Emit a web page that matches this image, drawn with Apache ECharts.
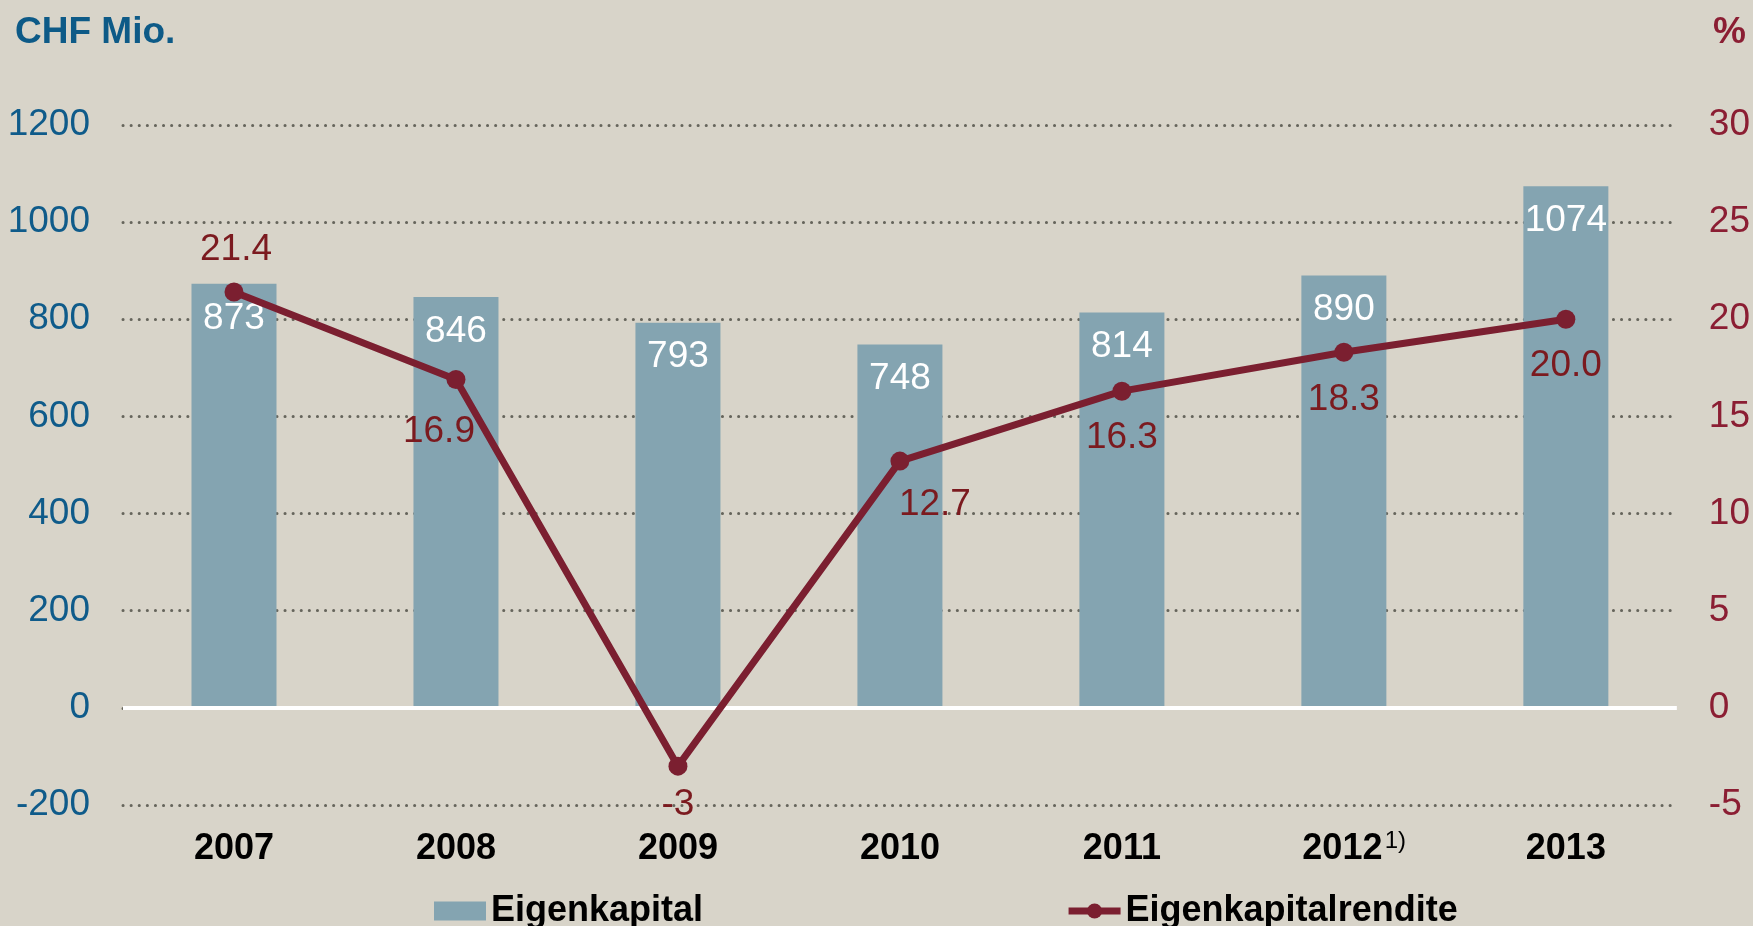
<!DOCTYPE html>
<html>
<head>
<meta charset="utf-8">
<script src="https://cdn.jsdelivr.net/npm/echarts@6/dist/echarts.min.js"></script>
<style>
  html, body { margin: 0; padding: 0; background: #d8d4c9; }
  #main { width: 1753px; height: 926px; }
</style>
</head>
<body>
<div id="main"></div>
<script>
// Daten
var years = ['2007', '2008', '2009', '2010', '2011', '2012', '2013'];
var eigenkapital = [873, 846, 793, 748, 814, 890, 1074];
var rendite = [21.4, 16.9, -3, 12.7, 16.3, 18.3, 20.0];
var renditeLabels = ['21.4', '16.9', '-3', '12.7', '16.3', '18.3', '20.0'];
var leftTicks = { min: -200, max: 1200, interval: 200 };
var rightTicks = { min: -5, max: 30, interval: 5 };

// Label-Versatz der Linienwerte (nur Darstellung)
var labelOffsets = [[2, -42], [-17, 52], [0, 39], [35, 44], [0, 47], [0, 47], [0, 47]];

var font = '"Liberation Sans", Arial, sans-serif';
var chart = echarts.init(document.getElementById('main'));

var lineData = rendite.map(function (v, i) {
    return {
        value: v,
        label: { offset: labelOffsets[i] }
    };
});

var dotted = { color: '#66655c', width: 3, type: [0.1, 8], cap: 'round' };

option = {
    backgroundColor: '#d8d4c9',
    textStyle: { fontFamily: font },
    title: [
        { text: 'CHF Mio.', left: 10, top: 9,
          textStyle: { color: '#0d5a87', fontSize: 37, fontWeight: 'bold', fontFamily: font } },
        { text: '%', right: 2, top: 9,
          textStyle: { color: '#8b1e33', fontSize: 37, fontWeight: 'bold', fontFamily: font } }
    ],
    legend: {
        left: 429,
        top: 888,
        itemWidth: 52,
        itemHeight: 19,
        itemGap: 362,
        textStyle: { color: '#000', fontSize: 36, fontWeight: 'bold', fontFamily: font },
        data: [
            { name: 'Eigenkapital', icon: 'rect' },
            { name: 'Eigenkapitalrendite', lineStyle: { width: 7 } }
        ]
    },
    grid: { left: 123, right: 76, top: 125, bottom: 121 },
    xAxis: {
        type: 'category',
        data: years,
        axisLine: { show: false },
        axisTick: { show: false },
        axisLabel: {
            interval: 0,
            margin: 24,
            color: '#000',
            fontSize: 36,
            fontWeight: 'bold',
            fontFamily: font,
            formatter: function (v) {
                if (v === '2012') return '{pad|}{b|' + v + '}{sup|1)}';
                return '{b|' + v + '}';
            },
            rich: {
                b: { fontSize: 36, lineHeight: 40, fontWeight: 'bold', color: '#000', fontFamily: font },
                pad: { width: 20, lineHeight: 40 },
                sup: { fontSize: 24, lineHeight: 6, verticalAlign: 'top', fontWeight: 'normal',
                       color: '#000', width: 20, fontFamily: font, padding: [0, 0, 0, 3] }
            }
        }
    },
    yAxis: [
        {
            type: 'value',
            min: leftTicks.min, max: leftTicks.max, interval: leftTicks.interval,
            axisLine: { show: false },
            axisTick: { show: false },
            axisLabel: { margin: 33, color: '#0f5b8a', fontSize: 37, fontFamily: font,
                         formatter: function (v) { return String(v); } },
            splitLine: { lineStyle: dotted }
        },
        {
            type: 'value',
            min: rightTicks.min, max: rightTicks.max, interval: rightTicks.interval,
            axisLine: { show: false },
            axisTick: { show: false },
            axisLabel: { margin: 32, color: '#8b1e33', fontSize: 37, fontFamily: font },
            splitLine: { show: false }
        }
    ],
    series: [
        {
            name: 'Eigenkapital',
            type: 'bar',
            yAxisIndex: 0,
            data: eigenkapital,
            barWidth: 85,
            itemStyle: { color: '#84a4b1' },
            label: {
                show: true,
                position: 'insideTop',
                distance: 16,
                color: '#fff',
                fontSize: 37,
                fontFamily: font
            },
            markLine: {
                silent: true,
                symbol: 'none',
                label: { show: false },
                lineStyle: { color: '#ffffff', width: 4, type: 'solid' },
                data: [{ yAxis: 0 }]
            },
            z: 2
        },
        {
            name: 'Eigenkapitalrendite',
            type: 'line',
            yAxisIndex: 1,
            data: lineData,
            symbol: 'circle',
            symbolSize: 19,
            lineStyle: { color: '#7b1f30', width: 7 },
            itemStyle: { color: '#7b1f30' },
            label: {
                show: true,
                position: 'inside',
                color: '#7b1a1f',
                fontSize: 37,
                fontFamily: font,
                formatter: function (p) { return renditeLabels[p.dataIndex]; }
            },
            z: 5
        }
    ]
};
chart.setOption(option);
</script>
</body>
</html>
